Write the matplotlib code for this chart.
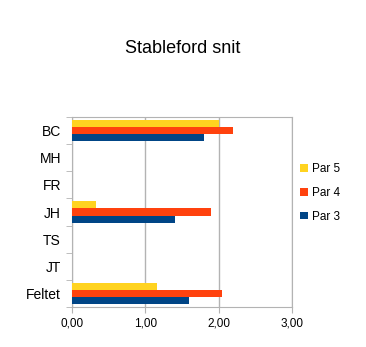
import numpy as np
import matplotlib
matplotlib.use("Agg")
import matplotlib.pyplot as plt
from matplotlib.ticker import FuncFormatter

# spillere / players, top to bottom
players = ["BC", "MH", "FR", "JH", "TS", "JT", "Feltet"]
par5 = [2.00, 0, 0, 0.33, 0, 0, 1.16]
par4 = [2.20, 0, 0, 1.90, 0, 0, 2.05]
par3 = [1.80, 0, 0, 1.40, 0, 0, 1.60]
series = [("Par 5", par5, "#ffd320"), ("Par 4", par4, "#ff420e"), ("Par 3", par3, "#004586")]

plt.rcParams['font.family'] = ['Liberation Sans', 'DejaVu Sans']

fig = plt.figure(figsize=(3.66, 3.47), dpi=100)
ax = fig.add_axes([0.197, 0.115, 0.601, 0.548])

n = len(players)
y = np.arange(n)[::-1]  # first player at the top
h = 0.26
for i, (name, vals, col) in enumerate(series):
    ax.barh(y + (1 - i) * h, vals, height=h, color=col, label=name, zorder=3)

ax.set_xlim(0, 3)
ax.set_ylim(-0.5, n - 0.5)
ax.set_xticks([0, 1, 2, 3])
ax.xaxis.set_major_formatter(FuncFormatter(lambda v, p: f"{v:.2f}".replace(".", ",")))
ax.set_yticks(y)
ax.set_yticklabels(players)
ax.set_yticks(np.arange(n + 1) - 0.5, minor=True)
ax.tick_params(axis='y', which='major', length=0, labelsize=10, pad=8)
ax.tick_params(axis='y', which='minor', length=4, color='#b3b3b3')
ax.tick_params(axis='x', length=4, color='#b3b3b3', labelsize=8.5)

ax.grid(axis='x', color='#b3b3b3', linewidth=1, zorder=0)
for s in ax.spines.values():
    s.set_color('#b3b3b3')

fig.suptitle("Stableford snit", x=0.5, y=0.885, fontsize=13)

ax.legend(loc='center left', bbox_to_anchor=(0.99, 0.6), frameon=False, fontsize=8.5,
          handlelength=0.6, handleheight=0.6, handletextpad=0.4, labelspacing=1.0)

fig.savefig("out.png", dpi=100)
